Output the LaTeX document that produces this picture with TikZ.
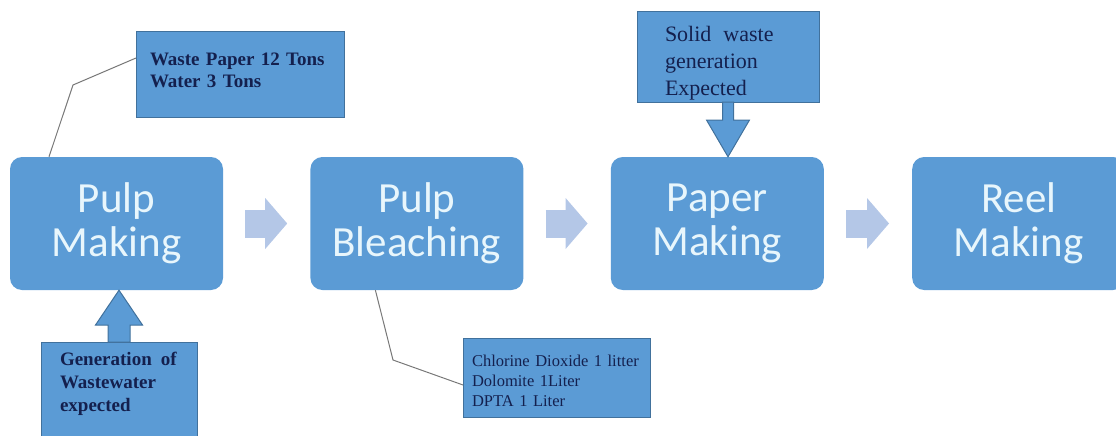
\documentclass[tikz,border=0pt]{standalone}
\usepackage{fontspec}
\setmainfont{Liberation Serif}
\newfontfamily\boxfont{Carlito}
\usetikzlibrary{positioning,arrows.meta}

\definecolor{boxblue}{RGB}{91,155,213}
\definecolor{boxline}{RGB}{65,113,156}
\definecolor{flowblue}{RGB}{180,199,231}
\definecolor{labeltext}{RGB}{232,246,252}
\definecolor{notetext}{RGB}{20,32,78}
\definecolor{linegray}{RGB}{120,120,120}

\tikzset{
  mainbox/.style={fill=boxblue, rounded corners=12pt, minimum width=213pt, minimum height=133pt,
    inner sep=0pt, align=center, text=labeltext, font={\boxfont\fontsize{43pt}{44pt}\selectfont}},
  notebox/.style={draw=boxline, fill=boxblue, line width=1pt, anchor=north west, inner ysep=0pt,
    outer sep=0pt, align=left, text=notetext},
  noteline/.style={draw=linegray, line width=1pt},
  flowarrow/.style={draw=flowblue, line width=28pt, -{Triangle[length=22pt, width=51pt, line width=0pt]}},
  bluearrow/.style={fill=boxblue, draw=boxline, line width=1pt}
}

\begin{document}
\begin{tikzpicture}[x=1pt,y=-1pt]
\useasboundingbox (0,0) rectangle (1116,436);
\clip (0,0) rectangle (1116,436);

\node[mainbox] (pulp) at (116.5,223.5) {Pulp\\Making};
\node[mainbox,right=87pt of pulp] (bleach) {Pulp\\Bleaching};
\node[mainbox,right=87pt of bleach] (paper) {Paper\\Making};
\node[mainbox,right=88pt of paper] (reel) {Reel\\Making};
\foreach \a/\b in {pulp/bleach,bleach/paper,paper/reel}
  \draw[flowarrow] ([xshift=22pt]\a.east) -- ([xshift=-23pt]\b.west);

\node[notebox, inner xsep=14pt, text width=180pt, text height=34pt, text depth=51pt,
  font=\bfseries\fontsize{19pt}{22pt}\selectfont] (rawinput) at (136,32) {Waste Paper 12 Tons\\Water 3 Tons};
\coordinate (inputbend) at (73,85);
\draw[noteline] ([xshift=-67.5pt]pulp.north) -- (inputbend) -- ([yshift=-26pt]rawinput.north west);

\node[notebox, inner xsep=19pt, text width=118pt, text height=23pt, text depth=75pt,
  font=\bfseries\fontsize{19pt}{23pt}\selectfont] (wastewater) at (41,342) {\mbox{Generation\hspace{9pt}of}\\Wastewater\\expected};
\draw[bluearrow] ([xshift=-11pt]wastewater.north) -- ([xshift=-11pt,yshift=17pt]wastewater.north)
  -- ([xshift=-23.5pt,yshift=17pt]wastewater.north) -- (wastewater.north |- pulp.south)
  -- ([xshift=23.5pt,yshift=17pt]wastewater.north) -- ([xshift=11pt,yshift=17pt]wastewater.north)
  -- ([xshift=11pt]wastewater.north) -- cycle;

\node[notebox, inner xsep=9pt, text width=169pt, text height=28pt, text depth=51pt,
  font=\fontsize{16.5pt}{20pt}\selectfont] (chemicals) at (463,338) {Chlorine Dioxide 1 litter\\Dolomite 1Liter\\DPTA 1 Liter};
\coordinate (chemicalbend) at (393,360);
\draw[noteline] ([xshift=-41.5pt]bleach.south) -- (chemicalbend) -- ([yshift=-47pt]chemicals.north west);

\node[notebox, inner xsep=28pt, text width=126pt, text height=30pt, text depth=60pt,
  font=\fontsize{22pt}{27pt}\selectfont] (solidwaste) at (637,12) {Solid\hspace{12pt}waste\\generation\\Expected};
\draw[bluearrow] ([xshift=-5.5pt]solidwaste.south) -- ([xshift=-5.5pt,yshift=-18pt]solidwaste.south)
  -- ([xshift=-21.5pt,yshift=-18pt]solidwaste.south) -- (solidwaste.south |- paper.north)
  -- ([xshift=21.5pt,yshift=-18pt]solidwaste.south) -- ([xshift=5.5pt,yshift=-18pt]solidwaste.south)
  -- ([xshift=5.5pt]solidwaste.south) -- cycle;
\end{tikzpicture}
\end{document}
